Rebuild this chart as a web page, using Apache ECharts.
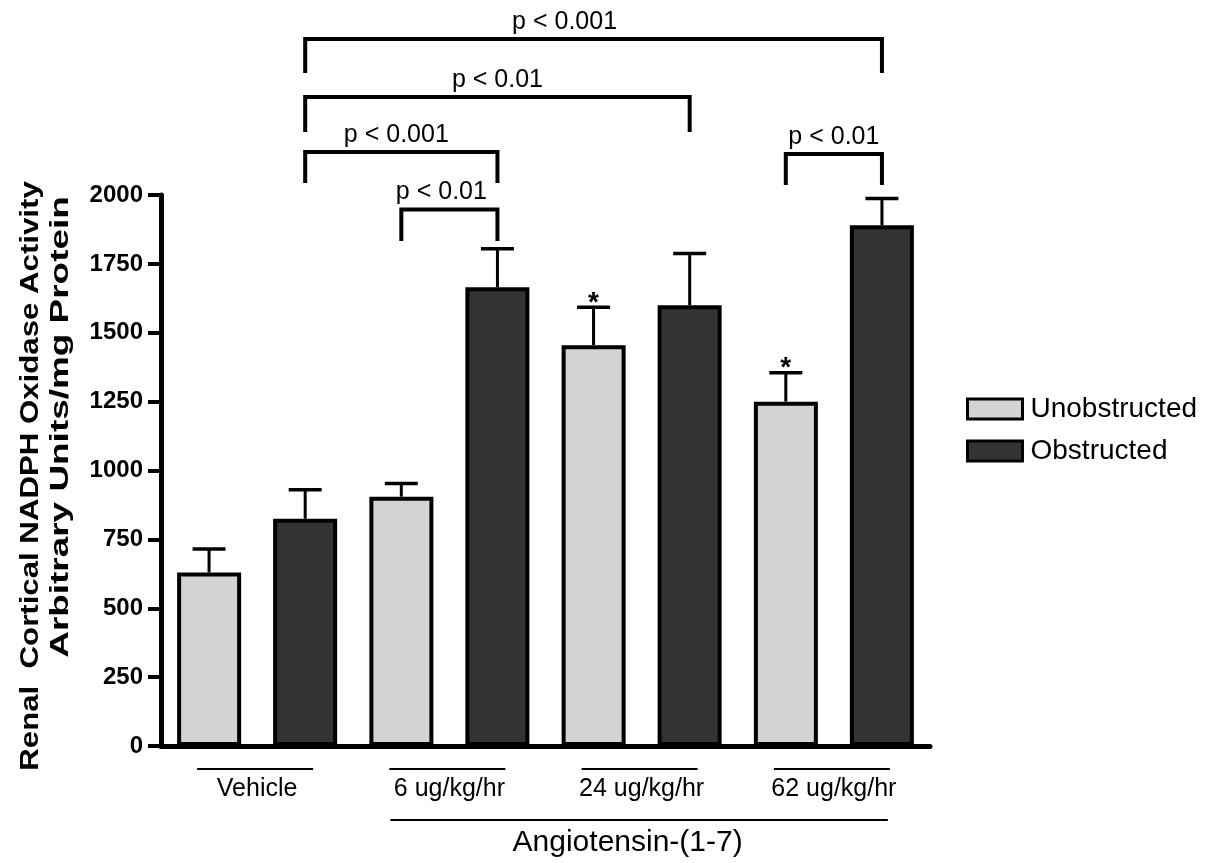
<!DOCTYPE html>
<html>
<head>
<meta charset="utf-8">
<script src="https://cdn.jsdelivr.net/npm/echarts@6/dist/echarts.min.js"></script>
<style>
html,body{margin:0;padding:0;background:#fff;}
#chart{width:1214px;height:863px;}
</style>
</head>
<body>
<div id="chart"></div>
<script>
// ---------- data ----------
const categories = ['Vehicle', '6 ug/kg/hr', '24 ug/kg/hr', '62 ug/kg/hr'];
const seriesNames = ['Unobstructed', 'Obstructed'];
const unobstructed = [630, 905, 1455, 1250];
const unobstructedErr = [85, 48, 138, 105];
const unobstructedMark = ['', '', '*', '*'];
const obstructed = [825, 1665, 1600, 1890];
const obstructedErr = [105, 140, 188, 97];
const obstructedMark = ['', '', '', ''];
const yTicks = { min: 0, max: 2000, interval: 250 };
const yTitle = ['Renal  Cortical NADPH Oxidase Activity', 'Arbitrary Units/mg Protein'];
const groupTitle = 'Angiotensin-(1-7)';
// significance brackets: bar indices (0..7), bracket level and leg bottom (axis units), label
const bracketFrom = [1, 1, 1, 6, 2];
const bracketTo = [7, 5, 3, 7, 3];
const bracketTop = [2566, 2356, 2156, 2149, 1947];
const bracketBottom = [2443, 2229, 2044, 2036, 1833];
const bracketLabel = ['p < 0.001', 'p < 0.01', 'p < 0.001', 'p < 0.01', 'p < 0.01'];
const bracketLabelShift = [-29, 0, -5, 0, -8];

const FONT = '"Liberation Sans", Arial, Helvetica, sans-serif';
const chart = echarts.init(document.getElementById('chart'), null, { renderer: 'canvas' });

function barX(api, barIndex) {
  const g = Math.floor(barIndex / 2);
  const side = barIndex % 2 ? 1 : -1;
  const band = api.size([1, 0])[0];
  return api.coord([g, 0])[0] + side * band * 0.25;
}

function errorSeries(name, vals, errs, marks, side) {
  return {
    type: 'custom',
    name: name + ' err',
    clip: false,
    silent: true,
    z: 5,
    data: vals.map((v, i) => [i, v, errs[i]]),
    encode: { x: 0, y: 1 },
    renderItem: function (params, api) {
      const cat = api.value(0), val = api.value(1), err = api.value(2);
      const band = api.size([1, 0])[0];
      const p = api.coord([cat, val]);
      const x = p[0] + side * band * 0.25;
      const top = api.coord([cat, val + err])[1];
      const children = [
        { type: 'line', shape: { x1: x, y1: p[1], x2: x, y2: top }, style: { stroke: '#000', lineWidth: 3 } },
        { type: 'line', shape: { x1: x - 16.5, y1: top, x2: x + 16.5, y2: top }, style: { stroke: '#000', lineWidth: 3.5 } }
      ];
      const m = marks[params.dataIndex];
      if (m) {
        children.push({ type: 'text', x: x, y: top - 4, style: { text: m, font: 'bold 28px ' + FONT, fill: '#000', align: 'center', verticalAlign: 'middle' } });
      }
      return { type: 'group', children: children };
    }
  };
}

const option = {
  animation: false,
  backgroundColor: '#fff',
  grid: { left: 161, right: 284, top: 195, bottom: 117, containLabel: false },
  legend: {
    orient: 'vertical',
    left: 966,
    top: 395,
    padding: 0,
    itemWidth: 55,
    itemHeight: 20,
    itemGap: 14,
    icon: 'rect',
    data: seriesNames,
    itemStyle: { borderColor: '#000', borderWidth: 3 },
    textStyle: { fontSize: 28, color: '#000', fontFamily: FONT, padding: [0, 0, 0, 3] }
  },
  xAxis: {
    type: 'category',
    data: categories,
    axisLine: { show: true, lineStyle: { color: '#000', width: 5 } },
    axisTick: { show: false },
    axisLabel: { color: '#000', fontSize: 25, fontFamily: FONT, margin: 31, interval: 0 },
    splitLine: { show: false }
  },
  yAxis: {
    type: 'value',
    min: yTicks.min,
    max: yTicks.max,
    interval: yTicks.interval,
    axisLine: { show: true, lineStyle: { color: '#000', width: 5 } },
    axisTick: { show: true, length: 13, lineStyle: { color: '#000', width: 4 } },
    axisLabel: { color: '#000', fontSize: 24, fontWeight: 'bold', fontFamily: FONT, margin: 18, formatter: function (v) { return String(v); } },
    splitLine: { show: false }
  },
  graphic: [
    { type: 'text', x: 31, y: 476, rotation: Math.PI / 2, scaleX: 1.2, style: { text: yTitle[0], font: 'bold 26px ' + FONT, fill: '#000', align: 'center', verticalAlign: 'middle' } },
    { type: 'text', x: 61, y: 427, rotation: Math.PI / 2, scaleX: 1.42, style: { text: yTitle[1], font: 'bold 26px ' + FONT, fill: '#000', align: 'center', verticalAlign: 'middle' } }
  ],
  series: [
    {
      type: 'bar', name: seriesNames[0], data: unobstructed,
      barWidth: 64, barGap: '50%',
      itemStyle: { color: '#d3d3d3', borderColor: '#000', borderWidth: 4 }
    },
    {
      type: 'bar', name: seriesNames[1], data: obstructed,
      barWidth: 64, barGap: '50%',
      itemStyle: { color: '#333333', borderColor: '#000', borderWidth: 4 }
    },
    errorSeries(seriesNames[0], unobstructed, unobstructedErr, unobstructedMark, -1),
    errorSeries(seriesNames[1], obstructed, obstructedErr, obstructedMark, 1),
    {
      // short lines above each category label
      type: 'custom', name: 'group lines', clip: false, silent: true,
      data: categories.map((c, i) => [i, 0]),
      encode: { x: 0, y: 1 },
      renderItem: function (params, api) {
        const p = api.coord([api.value(0), 0]);
        return { type: 'line', shape: { x1: p[0] - 60, y1: p[1] + 23, x2: p[0] + 56, y2: p[1] + 23 }, style: { stroke: '#000', lineWidth: 2 } };
      }
    },
    {
      // Angiotensin group line and title
      type: 'custom', name: 'treatment group', clip: false, silent: true,
      data: [[1, 0, 3]],
      encode: { x: 0, y: 1 },
      renderItem: function (params, api) {
        const a = api.coord([api.value(0), 0]);
        const b = api.coord([api.value(2), 0]);
        const x1 = a[0] - 59, x2 = b[0] + 54;
        return {
          type: 'group', children: [
            { type: 'line', shape: { x1: x1, y1: a[1] + 74, x2: x2, y2: a[1] + 74 }, style: { stroke: '#000', lineWidth: 2 } },
            { type: 'text', x: (a[0] + b[0]) / 2 - 14, y: a[1] + 97, style: { text: groupTitle, font: '30px ' + FONT, fill: '#000', align: 'center', verticalAlign: 'middle' } }
          ]
        };
      }
    },
    {
      // significance brackets
      type: 'custom', name: 'brackets', clip: false, silent: true, z: 6,
      data: bracketFrom.map((f, i) => [Math.floor(f / 2), bracketTop[i]]),
      encode: { x: 0, y: 1 },
      renderItem: function (params, api) {
        const i = params.dataIndex;
        const xa = barX(api, bracketFrom[i]);
        const xb = barX(api, bracketTo[i]);
        const yt = api.coord([0, bracketTop[i]])[1];
        const yb = api.coord([0, bracketBottom[i]])[1];
        return {
          type: 'group', children: [
            { type: 'polyline', shape: { points: [[xa, yb], [xa, yt], [xb, yt], [xb, yb]] }, style: { stroke: '#000', lineWidth: 4, fill: null, lineJoin: 'miter' } },
            { type: 'text', x: (xa + xb) / 2 + bracketLabelShift[i], y: yt - 17, style: { text: bracketLabel[i], font: '25px ' + FONT, fill: '#000', align: 'center', verticalAlign: 'middle' } }
          ]
        };
      }
    }
  ]
};
chart.setOption(option);
</script>
</body>
</html>
